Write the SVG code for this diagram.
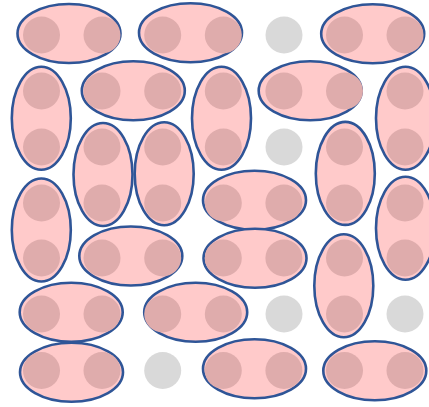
<svg xmlns="http://www.w3.org/2000/svg" width="429" height="407" viewBox="0 0 429 407">
<style>
.d{fill:#ffcaca;stroke:#2f5597;stroke-width:2.6}
.s{fill:#dfacac}
.e{fill:#d9d9d9}
</style>
<defs>
<g id="h"><ellipse class="d" cx="0" cy="0" rx="51.5" ry="29.5"/></g>
<g id="v"><ellipse class="d" cx="0" cy="0" rx="29.5" ry="51.5"/></g>
</defs>
<rect width="429" height="407" fill="#ffffff"/>
<g id="dimer1"><use href="#h" x="69" y="33.5"/><circle class="s" cx="41.5" cy="35" r="18.5"/><circle class="s" cx="102" cy="35" r="18.5"/></g>
<g id="dimer2"><use href="#h" x="190.5" y="32.8"/><circle class="s" cx="162.7" cy="35" r="18.5"/><circle class="s" cx="223.3" cy="35" r="18.5"/></g>
<g id="dimer3"><use href="#h" x="372.7" y="33.7"/><circle class="s" cx="344.5" cy="35" r="18.5"/><circle class="s" cx="405" cy="35" r="18.5"/></g>
<g id="dimer4"><use href="#v" x="41.3" y="118.3"/><circle class="s" cx="41.5" cy="91" r="18.5"/><circle class="s" cx="41.5" cy="147" r="18.5"/></g>
<g id="dimer5"><use href="#h" x="133.3" y="90.8"/><circle class="s" cx="102" cy="91" r="18.5"/><circle class="s" cx="162.7" cy="91" r="18.5"/></g>
<g id="dimer6"><use href="#v" x="221.5" y="118.3"/><circle class="s" cx="223.3" cy="91" r="18.5"/><circle class="s" cx="223.3" cy="147" r="18.5"/></g>
<g id="dimer7"><use href="#h" x="310.2" y="90.7"/><circle class="s" cx="283.9" cy="91" r="18.5"/><circle class="s" cx="344.5" cy="91" r="18.5"/></g>
<g id="dimer8"><use href="#v" x="405.5" y="118.3"/><circle class="s" cx="405" cy="91" r="18.5"/><circle class="s" cx="405" cy="147" r="18.5"/></g>
<g id="dimer9"><use href="#v" x="103" y="174.5"/><circle class="s" cx="102" cy="147" r="18.5"/><circle class="s" cx="102" cy="203" r="18.5"/></g>
<g id="dimer10"><use href="#v" x="164.2" y="173.7"/><circle class="s" cx="162.7" cy="147" r="18.5"/><circle class="s" cx="162.7" cy="203" r="18.5"/></g>
<g id="dimer11"><use href="#v" x="345.3" y="173.4"/><circle class="s" cx="344.5" cy="147" r="18.5"/><circle class="s" cx="344.5" cy="203" r="18.5"/></g>
<g id="dimer12"><use href="#v" x="41.3" y="230"/><circle class="s" cx="41.5" cy="203" r="18.5"/><circle class="s" cx="41.5" cy="258" r="18.5"/></g>
<g id="dimer13"><use href="#h" x="254.5" y="200.2"/><circle class="s" cx="223.3" cy="203" r="18.5"/><circle class="s" cx="283.9" cy="203" r="18.5"/></g>
<g id="dimer14"><use href="#v" x="405.5" y="228.3"/><circle class="s" cx="405" cy="203" r="18.5"/><circle class="s" cx="405" cy="258" r="18.5"/></g>
<g id="dimer15"><use href="#h" x="130.8" y="256"/><circle class="s" cx="102" cy="258" r="18.5"/><circle class="s" cx="162.7" cy="258" r="18.5"/></g>
<g id="dimer16"><use href="#h" x="255" y="258.3"/><circle class="s" cx="223.3" cy="258" r="18.5"/><circle class="s" cx="283.9" cy="258" r="18.5"/></g>
<g id="dimer17"><use href="#v" x="343.8" y="285.8"/><circle class="s" cx="344.5" cy="258" r="18.5"/><circle class="s" cx="344.5" cy="314" r="18.5"/></g>
<g id="dimer18"><use href="#h" x="71.2" y="312.2"/><circle class="s" cx="41.5" cy="314" r="18.5"/><circle class="s" cx="102" cy="314" r="18.5"/></g>
<g id="dimer19"><use href="#h" x="195.7" y="312.2"/><circle class="s" cx="162.7" cy="314" r="18.5"/><circle class="s" cx="223.3" cy="314" r="18.5"/></g>
<g id="dimer20"><use href="#h" x="71.5" y="372.2"/><circle class="s" cx="41.5" cy="370.5" r="18.5"/><circle class="s" cx="102" cy="370.5" r="18.5"/></g>
<g id="dimer21"><use href="#h" x="254.5" y="368.8"/><circle class="s" cx="223.3" cy="370.5" r="18.5"/><circle class="s" cx="283.9" cy="370.5" r="18.5"/></g>
<g id="dimer22"><use href="#h" x="374.8" y="370.7"/><circle class="s" cx="344.5" cy="370.5" r="18.5"/><circle class="s" cx="405" cy="370.5" r="18.5"/></g>
<g id="site1"><circle class="e" cx="284" cy="35" r="18.5"/></g>
<g id="site2"><circle class="e" cx="284" cy="147" r="18.5"/></g>
<g id="site3"><circle class="e" cx="284" cy="314" r="18.5"/></g>
<g id="site4"><circle class="e" cx="405" cy="314" r="18.5"/></g>
<g id="site5"><circle class="e" cx="162.7" cy="370.5" r="18.5"/></g>
</svg>
